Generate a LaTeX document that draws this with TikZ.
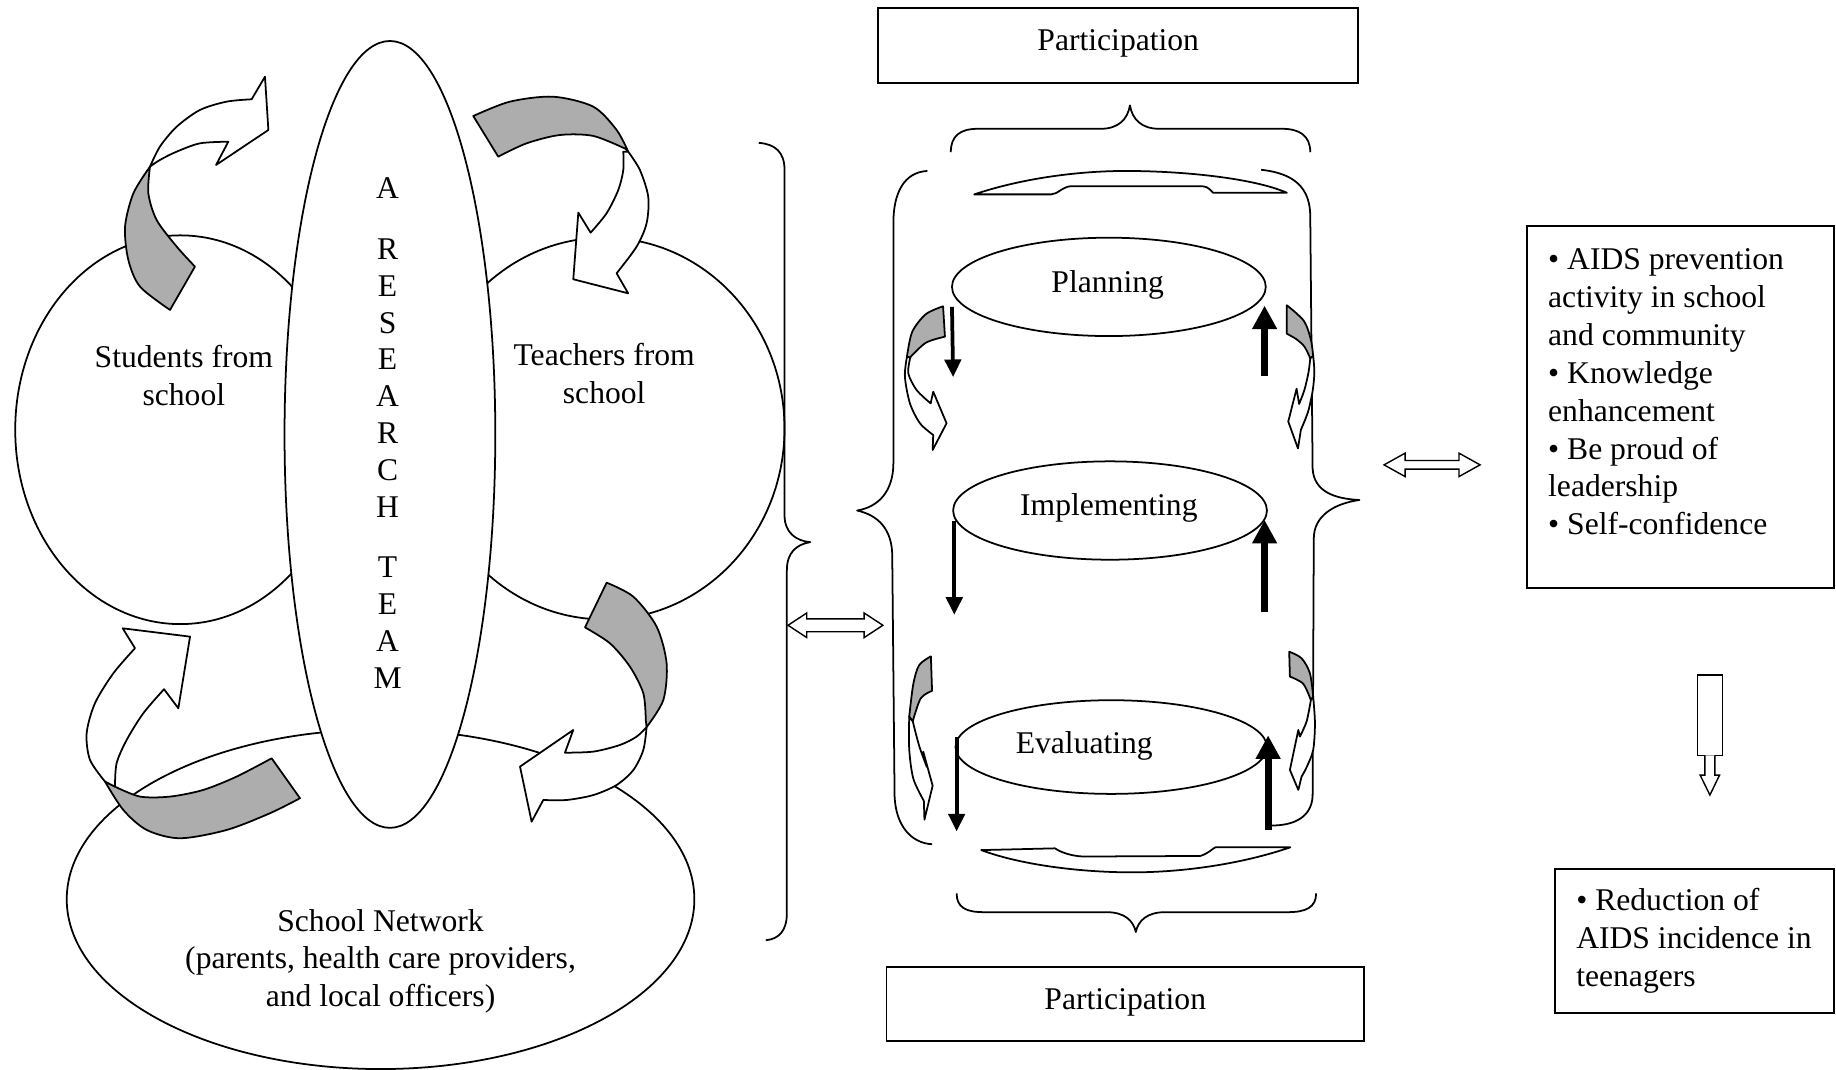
\documentclass[tikz,border=0pt]{standalone}
\usepackage{fontspec}
\setmainfont{Liberation Serif}
\usetikzlibrary{arrows.meta,shapes.geometric}
\begin{document}
\begin{tikzpicture}[x=1pt,y=-1pt,
  every node/.style={font=\fontsize{27}{32.3}\selectfont, inner sep=0pt},
  ln/.style={line width=1.5pt, line join=round},
  shadedpart/.style={ln, fill=black!32},
  whitepart/.style={ln, fill=white},
  oval/.style={draw, ellipse, line width=1.5pt, inner sep=0pt},
  boxed/.style={draw, rectangle, line width=1.5pt, inner sep=0pt},
  thinarr/.style={line width=3.2pt, -{Triangle[length=15pt,width=14pt]}},
  thickarr/.style={line width=6pt, -{Triangle[length=20pt,width=20pt]}},
  blockarr/.style={line width=1.2pt, line join=miter, fill=white}
]
\useasboundingbox (0,0) rectangle (1568,913);
\fill[white] (0,0) rectangle (1568,913);

% ---------- left cluster ----------
\node[oval, minimum width=282pt, minimum height=332pt] (students) at (154,367) {};
\node[oval, minimum width=308pt, minimum height=326pt] (teachers) at (516,366) {};
\node[oval, minimum width=536pt, minimum height=290pt] (network) at (325,768) {};
\node[oval, fill=white, minimum width=180pt, minimum height=672pt] (team) at (333,371) {};

\node[align=center] (studentsT) at (157,321) {Students from\\school};
\node[align=center] (teachersT) at (516,319) {Teachers from\\school};
\node[align=center] (networkT) at (325,821) {School Network\\(parents, health care providers,\\and local officers)};
\node[align=center, font=\fontsize{27}{31.5}\selectfont] (teamT) at (331,370)
  {A\\[20pt]R\\E\\S\\E\\A\\R\\C\\H\\[20pt]T\\E\\A\\M};

% arrow top-left
\filldraw[shadedpart] plot[smooth] coordinates {(128.1,142.3) (113.9,165.1) (106.8,193.6) (109.6,222) (119.6,244.8) (145.2,264.7)} -- (166.5,227.7) -- plot[smooth] coordinates {(166.5,227.7) (150.9,210.6) (133.8,187.9) (126.7,165.1) (128.1,142.3)} -- cycle;
\filldraw[whitepart] plot[smooth] coordinates {(128.1,142.3) (136.6,125.2) (150.9,108.2) (170.8,93.9) (193.6,86.8) (214.9,84.8)} -- (226.3,65.5) -- (229.2,111.0) -- (184.5,140.9) -- (195.0,121.0) -- plot[smooth] coordinates {(195,121) (170.8,122.4) (150.9,129.5) (136.6,136.6) (128.1,142.3)} -- cycle;

% arrow top-right
\filldraw[shadedpart] plot[smooth] coordinates {(404.2,99.1) (435.5,86.8) (472.5,82.6) (506.7,91.1) (526.6,111.0) (536.5,129.5)} -- plot[smooth] coordinates {(534,127) (506.7,116.1) (478.2,115.3) (449.7,122.4) (425.5,133.8)} -- cycle;
\filldraw[whitepart] plot[smooth] coordinates {(536.5,129.5) (546.5,145.2) (553.6,168) (552.2,190.7) (543.7,210.6) (526.6,233.4)} -- (536.5,250.5) -- (489.6,238.5) -- (493.9,181.6) -- (504.4,198.7) -- plot[smooth] coordinates {(504.4,198.7) (518,182.2) (528,162.3) (532.3,145.2) (532.3,129.5)} -- cycle;

% arrow bottom-left
\filldraw[shadedpart] plot[smooth] coordinates {(89.7,667.5) (105.3,691.7) (125.3,708.8) (153.7,715.9) (193.6,708.8) (230.6,694.5) (256.2,681.7)} -- (232,647.6) -- plot[smooth] coordinates {(232,647.6) (202.1,663.2) (173.6,674.6) (145.2,680.3) (119.6,680.3) (98.2,671.8)} -- cycle;
\filldraw[whitepart] plot[smooth] coordinates {(89.7,667.5) (76.9,649) (74,626.2) (81.1,600.6) (96.8,575) (115.3,553.6)} -- (104.8,536.6) -- (162.3,543.7) -- (152.3,604.9) -- (140.1,588.6) -- plot[smooth] coordinates {(140.1,588.6) (122.4,609.1) (108.2,631.9) (99.6,651.8) (98.2,671.8)} -- cycle;

% arrow bottom-right
\filldraw[shadedpart] plot[smooth] coordinates {(518.1,497.6) (540.9,509.6) (560.8,535.2) (569.3,566.5) (566.5,597.8) (552.2,621)} -- plot[smooth] coordinates {(551.5,615) (549.4,592.1) (538,569.4) (520.9,549.4) (499.6,535.8)} -- cycle;
\filldraw[whitepart] plot[smooth] coordinates {(552.2,621) (549.4,640.5) (540.9,657.6) (526.6,670.4) (506.7,679) (483.9,683.2) (464,683.2)} -- (454,701.7) -- (444.1,654.7) -- (489.6,623.4) -- (482.5,642.8) -- plot[smooth] coordinates {(482.5,642.8) (506.7,641.9) (529.5,636.2) (543.7,629.1) (552.2,621)} -- cycle;

% big brace
\draw[ln] (648,122) .. controls (662,123) and (670,130) .. (670,145) -- (670,440) .. controls (670,455) and (680,462) .. (692,463) .. controls (680,465) and (672,472) .. (672,487) -- (672,780) .. controls (672,795) and (665,802) .. (654,803);

% double arrow left
\filldraw[blockarr] (673,534) -- (689,523.5) -- (689,528.5) -- (738,528.5) -- (738,523.5) -- (754,534) -- (738,544.5) -- (738,539.5) -- (689,539.5) -- (689,544.5) -- cycle;

% ---------- middle cycle ----------
\node[boxed, minimum width=410pt, minimum height=64pt] (partTop) at (955,39) {};
\node (partTopT) at (955,37) {Participation};
\node[boxed, minimum width=408pt, minimum height=63pt] (partBot) at (961,857.5) {};
\node (partBotT) at (961,856) {Participation};

% top / bottom braces
\draw[ln] (812,130) .. controls (812,116) and (820,110) .. (835,110) -- (940,110) .. controls (955,110) and (963,102) .. (965,90) .. controls (967,102) and (975,110) .. (990,110) -- (1095,110) .. controls (1110,110) and (1119,116) .. (1119,130);
\draw[ln] (817,763) .. controls (817,775) and (825,779) .. (840,779) -- (945,779) .. controls (960,779) and (968,786) .. (970,796) .. controls (972,786) and (980,779) .. (995,779) -- (1100,779) .. controls (1115,779) and (1124,775) .. (1124,763);

% lens shapes
\draw[ln] (832,166) .. controls (880,150) and (930,146) .. (961,146) .. controls (1010,146) and (1070,152) .. (1099,164.6) -- (1036,164.6) .. controls (1032,160) and (1030,159) .. (1025,159) -- (915,159) .. controls (908,159) and (903,166) .. (898,166) -- cycle;
\draw[ln] (838,726) -- (901,724.5) .. controls (906,728) and (915,731) .. (925,731.5) -- (1025,731) .. controls (1032,729) and (1035,725) .. (1038,723.6) -- (1102,723.6) .. controls (1060,738) and (1010,745) .. (967,745) .. controls (920,745) and (870,738) .. (838,726) -- cycle;

% side braces
\draw[ln] (792,146) .. controls (772,147) and (763,165) .. (763,190) -- (763,395) .. controls (763,420) and (750,433) .. (732,436) .. controls (750,440) and (762,452) .. (762,475) -- (764,680) .. controls (765,705) and (778,720) .. (796,721);
\draw[ln] (1077,145) .. controls (1105,148) and (1119,160) .. (1119,185) -- (1121,400) .. controls (1122,420) and (1140,426) .. (1161,427) .. controls (1140,430) and (1122,440) .. (1122,460) -- (1121,680) .. controls (1120,698) and (1105,705) .. (1086,705);

% stage ellipses
\node[oval, minimum width=268pt, minimum height=84pt] (plan) at (947,245) {};
\node[oval, minimum width=268pt, minimum height=84pt] (impl) at (948,436) {};
\node[oval, minimum width=266pt, minimum height=80pt] (eval) at (949,638) {};
\node (planT) at (946,243) {Planning};
\node (implT) at (947,434) {Implementing};
\node (evalT) at (926,637) {Evaluating};

% vertical arrows
\coordinate (pL1) at (813,262); \coordinate (pL2) at (814,322);
\coordinate (iL1) at (815,445); \coordinate (iL2) at (815,525);
\coordinate (eL1) at (817,629); \coordinate (eL2) at (817,710);
\coordinate (pR1) at (1080,321); \coordinate (pR2) at (1080,261);
\coordinate (iR1) at (1080,523); \coordinate (iR2) at (1080,444);
\coordinate (eR1) at (1083,709); \coordinate (eR2) at (1083,628);
\draw[thinarr] (pL1) -- (pL2);
\draw[thinarr] (iL1) -- (iL2);
\draw[thinarr] (eL1) -- (eL2);
\draw[thickarr] (pR1) -- (pR2);
\draw[thickarr] (iR1) -- (iR2);
\draw[thickarr] (eR1) -- (eR2);

% small curved arrows
\filldraw[shadedpart] plot[smooth] coordinates {(805.4,261.6) (790.7,268.3) (779,283.5) (774.5,305)} -- plot[smooth] coordinates {(777.5,305) (790.7,292.7) (807,287.5)} -- cycle;
\filldraw[whitepart] plot[smooth] coordinates {(774.5,305) (772.8,321.7) (777.1,344.5) (785.7,361.5) (797,371.5)} -- (796.5,384.3) -- (808.4,361.5) -- (797,334.5) -- (794.8,344.5) -- plot[smooth] coordinates {(794.8,344.5) (782.8,333.1) (775.7,318.8) (777.5,305)} -- cycle;

\filldraw[shadedpart] plot[smooth] coordinates {(1099,260.7) (1113.5,274) (1119.4,289.6) (1121.5,304)} -- plot[smooth] coordinates {(1119,306) (1114,296) (1107,289.6) (1099,285)} -- cycle;
\filldraw[whitepart] plot[smooth] coordinates {(1121.5,304) (1122.5,318) (1121,334) (1117,352) (1111,367)} -- (1108.5,383) -- (1100.2,360) -- (1107.3,332) -- (1109.5,345) -- plot[smooth] coordinates {(1109.5,345) (1114,333) (1117.5,318) (1119,306)} -- cycle;

\filldraw[shadedpart] plot[smooth] coordinates {(795,560.5) (785,568) (780,584) (776.5,612)} -- plot[smooth] coordinates {(779.5,616) (786.3,596.4) (796,590)} -- cycle;
\filldraw[whitepart] plot[smooth] coordinates {(776.5,612) (776.5,640) (780,665) (789,684)} -- (789.5,700) -- (796.5,671) -- (788.5,642) -- (791.5,655) -- plot[smooth] coordinates {(791.5,655) (785,637) (779.5,616)} -- cycle;

\filldraw[shadedpart] plot[smooth] coordinates {(1101,556.5) (1111.6,562.2) (1118.7,575) (1121.5,595)} -- plot[smooth] coordinates {(1119.5,598) (1113,584) (1101.6,577.8)} -- cycle;
\filldraw[whitepart] plot[smooth] coordinates {(1121.5,595) (1123,617.7) (1121.5,640.4) (1116,655) (1111.6,663.2)} -- (1108.8,674.6) -- (1101.6,657.5) -- (1108.8,623.4) -- (1110.2,629) -- plot[smooth] coordinates {(1110.2,629) (1115.9,616) (1119.5,598)} -- cycle;

% ---------- right side ----------
\filldraw[blockarr] (1182,397) -- (1200,387) -- (1200,393.3) -- (1246,393.3) -- (1246,387) -- (1264,397) -- (1246,407) -- (1246,400.7) -- (1200,400.7) -- (1200,407) -- cycle;

\node[boxed, minimum width=262pt, minimum height=309pt] (outcomes) at (1435,347.5) {};
\node[anchor=base west] (o1) at (1322,230.5) {• AIDS prevention};
\node[anchor=base west] (o2) at (1322,262.8) {activity in school};
\node[anchor=base west] (o3) at (1322,295.1) {and community};
\node[anchor=base west] (o4) at (1322,327.4) {• Knowledge};
\node[anchor=base west] (o5) at (1322,359.7) {enhancement};
\node[anchor=base west] (o6) at (1322,392.0) {• Be proud of};
\node[anchor=base west] (o7) at (1322,424.3) {leadership};
\node[anchor=base west] (o8) at (1322,456.6) {• Self-confidence};

\filldraw[blockarr] (1449.5,576.5) rectangle (1471,645);
\filldraw[blockarr] (1456,645) -- (1456,662) -- (1452,662) -- (1460.3,679) -- (1468.5,662) -- (1464.6,662) -- (1464.6,645);

\node[boxed, minimum width=238pt, minimum height=123pt] (result) at (1447,803.5) {};
\node[anchor=base west] (r1) at (1346,777.5) {• Reduction of};
\node[anchor=base west] (r2) at (1346,809.8) {AIDS incidence in};
\node[anchor=base west] (r3) at (1346,842.1) {teenagers};
\end{tikzpicture}
\end{document}
